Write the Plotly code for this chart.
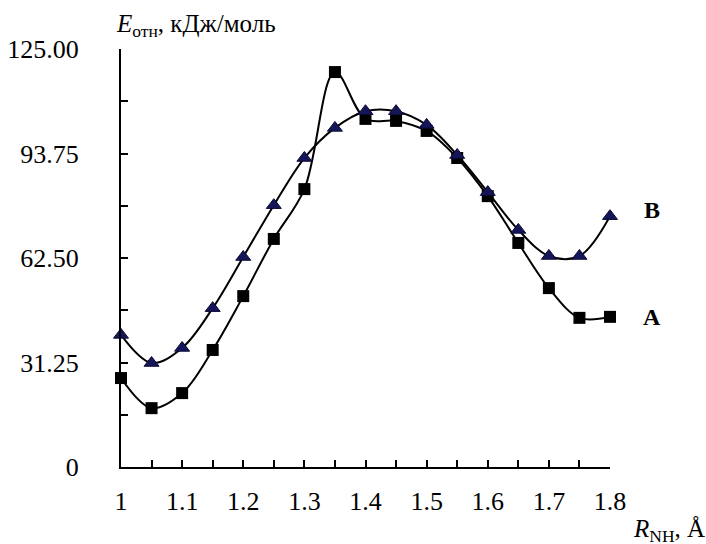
import plotly.graph_objects as go

r_nh = [1.0, 1.05, 1.1, 1.15, 1.2, 1.25, 1.3, 1.35, 1.4, 1.45, 1.5, 1.55, 1.6, 1.65, 1.7, 1.75, 1.8]
energy_a = [26.6, 17.6, 22.1, 35.0, 51.1, 68.2, 83.1, 118.1, 104.1, 103.5, 100.5, 92.4, 81.0, 67.0, 53.5, 44.6, 44.9]
energy_b = [39.5, 31.1, 35.6, 47.5, 62.8, 78.3, 92.4, 101.4, 106.4, 106.4, 102.3, 93.3, 82.2, 70.9, 63.1, 63.1, 75.0]

y_tickvals = [0, 31.25, 62.5, 93.75, 125]
y_ticktext = ["0", "31.25", "62.50", "93.75", "125.00"]
x_tickvals = [1.0, 1.1, 1.2, 1.3, 1.4, 1.5, 1.6, 1.7, 1.8]
x_ticktext = ["1", "1.1", "1.2", "1.3", "1.4", "1.5", "1.6", "1.7", "1.8"]

FONT = "Liberation Serif, Times New Roman, serif"

fig = go.Figure()
fig.add_trace(go.Scatter(
    x=r_nh, y=energy_a, mode="lines+markers", name="A",
    line=dict(color="black", width=2, shape="spline", smoothing=1),
    marker=dict(symbol="square", size=12, color="black"),
    cliponaxis=False,
))
fig.add_trace(go.Scatter(
    x=r_nh, y=energy_b, mode="lines+markers", name="B",
    line=dict(color="black", width=2, shape="spline", smoothing=1),
    marker=dict(symbol="triangle-up", size=13, color="#15155a",
                line=dict(color="#0a0a30", width=1)),
    cliponaxis=False,
))

fig.update_layout(
    width=706, height=544,
    margin=dict(l=121, r=96, t=49, b=77),
    paper_bgcolor="white", plot_bgcolor="white",
    showlegend=False,
    font=dict(family=FONT, size=26, color="black"),
    xaxis=dict(
        range=[1.0, 1.8], showgrid=False, zeroline=False, automargin=False,
        showline=True, linecolor="black", linewidth=2,
        ticks="inside", ticklen=7, tickwidth=2, tickcolor="black",
        tickvals=x_tickvals, ticktext=x_ticktext,
        ticklabelstandoff=10,
        minor=dict(tickvals=[1.05, 1.15, 1.25, 1.35, 1.45, 1.55, 1.65, 1.75],
                   ticks="inside", ticklen=7, tickwidth=2, tickcolor="black"),
    ),
    yaxis=dict(
        range=[0, 125], showgrid=False, zeroline=False, automargin=False,
        showline=True, linecolor="black", linewidth=2,
        ticks="inside", ticklen=7, tickwidth=2, tickcolor="black",
        tickvals=y_tickvals, ticktext=y_ticktext,
        ticklabelstandoff=35,
        minor=dict(tickvals=[15.625, 46.875, 78.125, 109.375],
                   ticks="inside", ticklen=7, tickwidth=2, tickcolor="black"),
    ),
    annotations=[
        dict(text="<i>E</i><sub>отн</sub>, кДж/моль", xref="paper", yref="paper",
             x=0, y=1, xanchor="left", yanchor="middle", xshift=-7, yshift=24,
             showarrow=False, font=dict(family=FONT, size=25)),
        dict(text="<i>R</i><sub>NH</sub>, Å", xref="paper", yref="paper",
             x=1, y=0, xanchor="left", yanchor="middle", xshift=21, yshift=-63,
             showarrow=False, font=dict(family=FONT, size=25)),
        dict(text="<b>A</b>", xref="paper", yref="y", x=1, y=energy_a[-1],
             xanchor="center", yanchor="middle", xshift=42,
             showarrow=False, font=dict(family=FONT, size=24)),
        dict(text="<b>B</b>", xref="paper", yref="y", x=1, y=energy_b[-1],
             xanchor="center", yanchor="middle", xshift=42, yshift=6,
             showarrow=False, font=dict(family=FONT, size=24)),
    ],
)

fig.write_html("out.html", config={"displayModeBar": False},
               post_script="document.body.style.margin='0';")
